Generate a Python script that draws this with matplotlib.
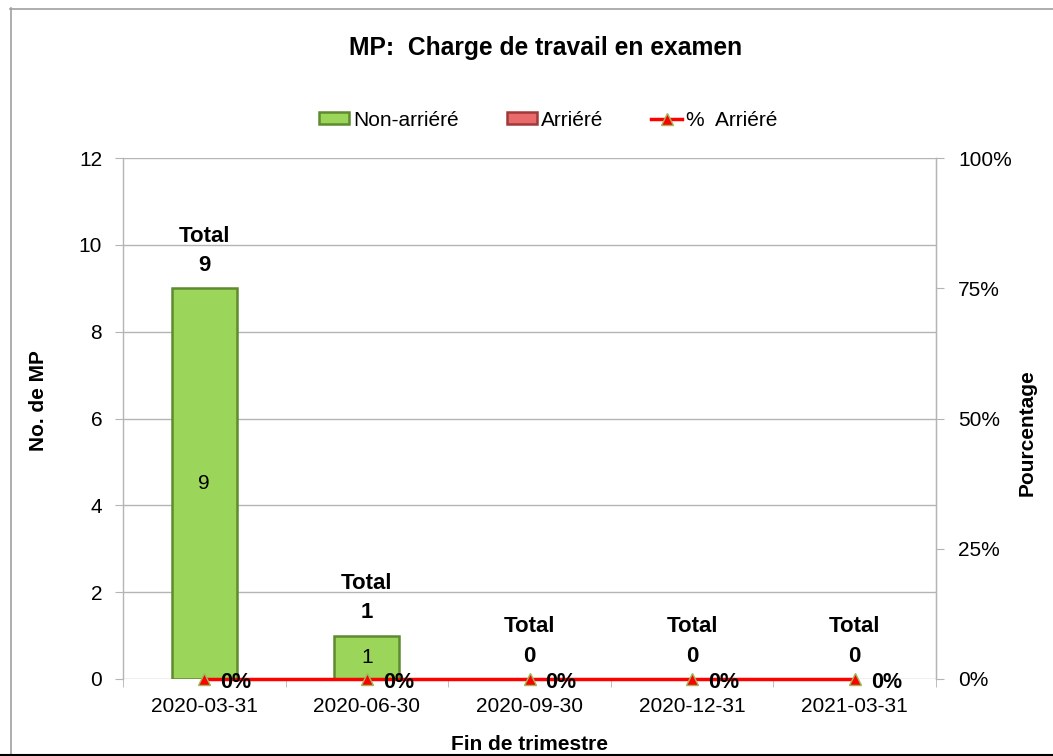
import matplotlib
matplotlib.use("Agg")
import matplotlib.pyplot as plt
from matplotlib.lines import Line2D
from matplotlib.patches import Patch
import numpy as np

plt.rcParams['font.family'] = ['Liberation Sans', 'DejaVu Sans']

categories = ["2020-03-31", "2020-06-30", "2020-09-30", "2020-12-31", "2021-03-31"]
non_arriere = [9, 1, 0, 0, 0]
arriere = [0, 0, 0, 0, 0]
pct_arriere = [0, 0, 0, 0, 0]
totals = [a + b for a, b in zip(non_arriere, arriere)]

title = "MP:  Charge de travail en examen"
ylabel_left = "No. de MP"
ylabel_right = "Pourcentage"
xlabel = "Fin de trimestre"

green_face = "#9BD65A"
green_edge = "#5F8B2E"
red_face = "#E86A6A"
red_edge = "#A03A3A"
grid_col = "#B4B4B4"

W, H = 1053, 756
fig = plt.figure(figsize=(W / 100, H / 100), dpi=100)
ax = fig.add_axes([123 / W, 1 - 679 / H, (936 - 123) / W, (679 - 158) / H])

x = np.arange(len(categories))
bw = 0.4
ax.bar(x, non_arriere, width=bw, color=green_face, edgecolor=green_edge,
       linewidth=[1.8 if v > 0 else 0 for v in non_arriere], zorder=3)
ax.bar(x, arriere, bottom=non_arriere, width=bw, color=red_face, edgecolor=red_edge,
       linewidth=[1.8 if v > 0 else 0 for v in arriere], zorder=3)

ax.set_xlim(-0.5, len(categories) - 0.5)
ax.set_ylim(0, 12)
ax.set_yticks(np.arange(0, 13, 2))
ax.grid(axis='y', color=grid_col, linewidth=1, zorder=0)
ax.set_axisbelow(True)
for s in ['top', 'bottom']:
    ax.spines[s].set_visible(False)
for s in ['left', 'right']:
    ax.spines[s].set_color(grid_col)
    ax.spines[s].set_linewidth(1)

ax.set_xticks(x)
ax.set_xticklabels(categories, fontsize=15)
ax.set_xticks(np.arange(-0.5, len(categories), 1), minor=True)
ax.tick_params(axis='x', which='major', length=0, pad=13)
ax.tick_params(axis='x', which='minor', length=6, color=grid_col, direction='out')
ax.tick_params(axis='y', labelsize=15, length=6, color=grid_col, pad=9)

# value labels
for i, (v, t) in enumerate(zip(non_arriere, totals)):
    if v > 0:
        ax.text(i, v / 2, str(v), ha='center', va='center', fontsize=15, zorder=5)
    ax.annotate(str(t), (i, t), xytext=(0, 23), textcoords='offset pixels',
                ha='center', va='center', fontsize=16, fontweight='bold', zorder=5)
    ax.annotate("Total", (i, t), xytext=(0, 52), textcoords='offset pixels',
                ha='center', va='center', fontsize=16, fontweight='bold', zorder=5)

ax.set_ylabel(ylabel_left, fontsize=15, fontweight='bold')
ax.yaxis.set_label_coords(-0.092, 0.534)

ax2 = ax.twinx()
ax2.set_ylim(0, 1)
ax2.set_yticks([0, 0.25, 0.5, 0.75, 1.0])
ax2.set_yticklabels(["0%", "25%", "50%", "75%", "100%"])
ax2.tick_params(axis='y', labelsize=15, length=6, color=grid_col, pad=10)
for s in ['top', 'bottom', 'left']:
    ax2.spines[s].set_visible(False)
ax2.spines['right'].set_color(grid_col)
ax2.plot(x, pct_arriere, color='#FF0000', linewidth=2.5, marker='^', markersize=8,
         markerfacecolor='#FF0000', markeredgecolor='#9BBB59', markeredgewidth=1, zorder=6,
         clip_on=False)
for i, p in enumerate(pct_arriere):
    ax2.annotate(f"{int(round(p * 100))}%", (i, p), xytext=(16, -3), textcoords='offset pixels',
                 ha='left', va='center', fontsize=15.5, fontweight='bold', zorder=7)
ax2.set_ylabel(ylabel_right, fontsize=15, fontweight='bold')
ax2.yaxis.set_label_coords(1.101, 0.472)

ax.set_xlabel(xlabel, fontsize=15, fontweight='bold')
ax.xaxis.set_label_coords(0.5, (679 - 735) / 521)

fig.text(546 / W, 1 - 48 / H, title, ha='center', va='center', fontsize=17.7, fontweight='bold')

handles = [
    Patch(facecolor=green_face, edgecolor=green_edge, linewidth=1.8),
    Patch(facecolor=red_face, edgecolor=red_edge, linewidth=1.8),
    Line2D([0], [0], color='#FF0000', linewidth=2.5, marker='^', markersize=8,
           markerfacecolor='#FF0000', markeredgecolor='#9BBB59'),
]
fig.legend(handles, ["Non-arriéré", "Arriéré", "%  Arriéré"], loc='center',
           bbox_to_anchor=(548 / W, 1 - 120 / H), ncol=3, frameon=False, fontsize=15,
           handlelength=1.45, handleheight=0.5, handletextpad=0.2, columnspacing=2.3)

# outer border
fig.add_artist(Line2D([10.5 / W, 10.5 / W], [0, 1 - 8 / H], color='#A0A0A0', linewidth=1.2,
                      transform=fig.transFigure))
fig.add_artist(Line2D([10 / W, 1], [1 - 8.5 / H, 1 - 8.5 / H], color='#A0A0A0', linewidth=1.2,
                      transform=fig.transFigure))
fig.add_artist(Line2D([0, 1], [1.5 / H, 1.5 / H], color='black', linewidth=1.5,
                      transform=fig.transFigure, zorder=10))

fig.savefig("out.png", dpi=100, facecolor='white')
